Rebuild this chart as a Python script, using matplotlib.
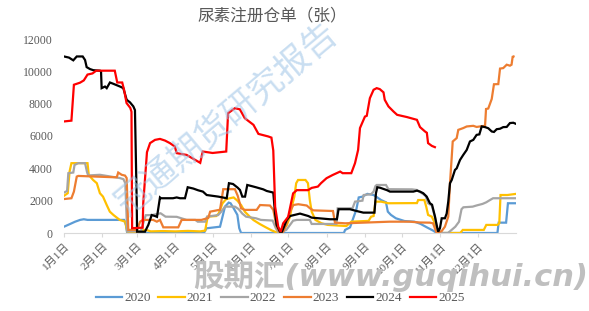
import matplotlib
matplotlib.use('Agg')
import matplotlib.pyplot as plt

plt.rcParams['font.family'] = ['Liberation Serif', 'Noto Sans CJK SC']

# 横轴: 一年中的第几天 (0 = 1月1日)
month_days = [0, 31, 59, 90, 120, 151, 181, 212, 243, 273, 304, 334]
month_labels = [f'{m}月1日' for m in range(1, 13)]

# 2020
d2020 = [0, 5, 9, 13, 16, 19, 48.5, 50, 51, 113, 115, 126, 128, 130, 133, 134.5, 137, 140, 141.5, 143,
         226, 227, 231, 234, 236, 238, 241, 245, 250, 253, 256, 260, 261.5, 264, 268, 275, 283, 288, 293,
         298, 301, 350, 351, 357, 358.5, 365]
v2020 = [390, 560, 700, 810, 850, 810, 810, 500, 0, 0, 290, 390, 1010, 1630, 1880, 1840, 1530, 1120, 300, 0,
         0, 190, 350, 1010, 1430, 2200, 2250, 2420, 2350, 2200, 2040, 1900, 1320, 1120, 910, 740, 700, 560, 350,
         150, 0, 0, 640, 640, 1840, 1840]

# 2021
d2021 = [0, 3, 4.5, 6, 19, 20, 23.5, 26.5, 29, 31.5, 34.5, 37, 40, 45, 49.5, 51, 56, 63, 66, 70, 80, 90, 100,
         110, 114, 116, 123, 125, 128, 131, 137, 140, 143, 146, 150, 153, 158, 163, 168, 173, 176.5, 180,
         182.5, 184, 186, 187.5, 189, 195, 197, 198.5, 200, 203, 208, 213, 228, 232, 246, 248, 250, 251.5,
         256, 262, 285, 286, 291, 292.5, 294, 297, 299.5, 302, 320, 322, 339, 341, 350, 351.5, 352.5, 358, 365]
v2021 = [2300, 2460, 3800, 4320, 4320, 3590, 3280, 3080, 2460, 2250, 1730, 1320, 1110, 810, 700, 100, 0, 150,
         200, 100, 120, 100, 130, 100, 150, 1010, 1050, 1220, 1840, 2100, 2200, 2000, 1730, 1320, 1010, 800,
         560, 350, 150, 0, 100, 500, 1010, 1630, 2250, 3080, 3280, 3280, 3080, 2040, 1320, 810, 600, 500, 430,
         700, 750, 1010, 1050, 1940, 1940, 1840, 1850, 2040, 2040, 1630, 1120, 1010, 600, 0, 0, 190, 190, 500,
         500, 600, 2350, 2350, 2420]

# 2022
d2022 = [0, 2.5, 3.5, 7.5, 8.5, 11.5, 17, 18.5, 19.5, 29, 45, 48, 49.5, 51, 62, 66, 71, 78, 82, 91, 99, 106,
         108, 114, 115.5, 124.5, 127, 130, 138, 141, 144, 147, 155, 159, 168.5, 171, 173.5, 179.5, 182.5, 185,
         188, 198.5, 200, 220, 221, 233, 235, 241, 242, 248, 250, 251.5, 252.5, 260, 262, 281, 285, 289, 292,
         294, 297, 299.5, 302, 310, 313, 316, 319, 321, 322.5, 330, 333, 338, 341, 344, 346.5, 365]
v2022 = [2500, 2600, 3700, 3740, 4210, 4320, 4320, 3800, 3560, 3600, 3400, 3330, 3080, 100, 100, 1100, 1110,
         1220, 1010, 1000, 810, 810, 700, 700, 1010, 1110, 1320, 1630, 1630, 1480, 1200, 1010, 910, 810, 770,
         300, 0, 190, 500, 760, 810, 810, 560, 560, 1530, 1530, 1940, 2000, 2350, 2400, 2560, 2900, 2970, 2970,
         2710, 2700, 2660, 2460, 2300, 1840, 1700, 1000, 0, 0, 190, 390, 700, 1470, 1590, 1630, 1700, 1800,
         1900, 2040, 2150, 2150]

# 2023
d2023 = [0, 6, 8, 10.3, 11.5, 39.8, 42.6, 43.8, 46.6, 49.3, 50.6, 51.9, 59, 61.4, 63.8, 72, 75, 77.5, 80.2,
         92.3, 95, 111, 116.5, 118, 126, 128.6, 138, 140.3, 143, 146, 155.6, 158.3, 166.3, 169, 171.7, 174.4,
         177, 179.8, 182.5, 185.2, 189.2, 196, 198.6, 201.3, 217.2, 218.8, 227, 263, 279, 287.5, 295.5, 298,
         300.9, 305, 307.6, 310.3, 311.7, 313.1, 313.9, 317.1, 318.4, 322.4, 325.2, 330.5, 333.2, 338.5, 340,
         340.8, 342.6, 345.4, 347.2, 350.7, 352.1, 354.7, 357.5, 360.1, 361.4, 362.3, 363]
v2023 = [2100, 2150, 2560, 3490, 3530, 3450, 3450, 3740, 3600, 3550, 3400, 190, 190, 700, 810, 810, 700, 810,
         350, 350, 810, 810, 930, 1320, 1440, 2710, 2710, 2300, 1530, 1430, 1430, 1730, 1700, 1430, 390, 0, 80,
         600, 1320, 1730, 1780, 1700, 1530, 1400, 1360, 640, 600, 700, 700, 650, 640, 600, 0, 120, 390, 1010,
         3080, 4700, 5660, 5870, 6380, 6490, 6590, 6630, 6560, 6620, 6620, 7670, 7700, 8290, 9200, 9210,
         10170, 10200, 10410, 10350, 10410, 10900, 10920]

# 2024
d2024 = [0, 4, 7.5, 10.3, 15.1, 17, 18.3, 21, 23.7, 29.1, 29.9, 30.4, 33.1, 34.5, 37.1, 39.8, 45.2, 47.9,
         50.6, 53.3, 56, 57.3, 58.7, 59, 65.4, 68.1, 70.8, 73.5, 75.1, 77.5, 78.3, 88, 91, 93.7, 97.7, 99.9,
         104.4, 108.4, 112.2, 115.2, 124.6, 131.4, 133.2, 136.5, 140.3, 142.1, 144, 146.2, 148, 151.6, 155,
         160.9, 163.7, 169, 170.4, 171.7, 174.4, 176, 179.8, 182.5, 187.9, 190.6, 197.3, 200, 214.8, 220.4,
         221.7, 230.9, 236.3, 241.7, 250.7, 251.9, 253, 255.2, 260.8, 263.2, 282.1, 285, 287.5, 290.1, 292.9,
         295.5, 297.2, 299.6, 300.9, 302.2, 303.6, 305, 307.6, 309, 310.3, 311.7, 313.1, 315.7, 317.1, 319.8,
         322.4, 325.2, 327.8, 330.5, 333.2, 335.4, 337.3, 340, 342.6, 345.4, 347.2, 349.4, 352.1, 354.7,
         357.5, 360.1, 362.8, 365]
v2024 = [10920, 10850, 10680, 10920, 10920, 10700, 10260, 10140, 10070, 10040, 10000, 8960, 9060, 8960,
         9310, 9230, 9060, 8960, 8240, 8080, 7830, 7600, 2000, 80, 80, 500, 1110, 1050, 1000, 2200, 2150,
         2150, 2200, 2150, 2150, 2830, 2750, 2640, 2560, 2350, 2250, 2150, 3080, 3030, 2800, 2660, 2250, 2250,
         2970, 2900, 2830, 2700, 2600, 2500, 1240, 500, 80, 80, 800, 1050, 1150, 1200, 1050, 950, 850, 850,
         1470, 1470, 1360, 1260, 1260, 2460, 2830, 2800, 2650, 2560, 2560, 2620, 2560, 2460, 2250, 1840, 1750,
         1010, 500, 80, 300, 910, 910, 1200, 1940, 3080, 3280, 3900, 4000, 4520, 4830, 5140, 5660, 5760, 6070,
         6100, 6590, 6550, 6480, 6280, 6250, 6420, 6450, 6550, 6560, 6800, 6820, 6750]

# 2025
d2025 = [0, 6, 8, 13, 16, 19, 23, 26, 41, 43, 47, 48.5, 50.5, 53.5, 54.5, 55, 63.5, 64, 67, 69.5, 73.5, 77.5,
         81.5, 85.5, 89.5, 91, 99, 110, 112, 120, 131, 132.5, 138, 142, 146, 153, 157, 165, 167.5, 169, 170.5,
         173, 175, 177, 181, 185, 188, 197, 200, 205, 207.5, 212, 217, 223, 225, 232, 235, 237.5, 239, 243,
         244.5, 247, 250, 252.5, 255, 258, 259, 262, 266, 269, 277, 285, 287.5, 291.5, 293, 294, 297, 299.5]
v2025 = [6900, 6950, 9170, 9300, 9440, 9800, 9870, 10040, 10040, 9310, 9310, 8860, 8040, 7740, 7500, 300, 330,
         1860, 5000, 5560, 5760, 5820, 5720, 5560, 5350, 4940, 4830, 4340, 5040, 4950, 5040, 7410, 7720, 7650,
         7100, 6690, 6130, 5970, 5900, 5100, 1630, 390, 80, 600, 1000, 2450, 2650, 2650, 2790, 2870, 3080,
         3390, 3590, 3800, 3700, 3700, 4320, 5140, 6490, 7200, 7250, 8340, 8860, 8960, 8900, 8700, 8240, 7830,
         7520, 7310, 7170, 7000, 6550, 6280, 6200, 5560, 5390, 5310]

series = [
    ('2020', d2020, v2020, '#5B9BD5'),
    ('2021', d2021, v2021, '#FFC000'),
    ('2022', d2022, v2022, '#A5A5A5'),
    ('2023', d2023, v2023, '#ED7D31'),
    ('2024', d2024, v2024, '#000000'),
    ('2025', d2025, v2025, '#FF0000'),
]

text_color = '#595959'

fig = plt.figure(figsize=(5.89, 3.11), dpi=100)
ax = fig.add_axes([64 / 589, 1 - 233 / 311, (516 - 64) / 589, (233 - 39) / 311])

for name, d, v, c in series:
    ax.plot(d, v, color=c, linewidth=1.6, label=name, solid_joinstyle='miter')

ax.set_xlim(0, 365)
ax.set_ylim(0, 12000)
ax.set_yticks(range(0, 12001, 2000))
ax.set_xticks(month_days)
ax.set_xticklabels(month_labels, rotation=45, ha='right', rotation_mode='anchor')

for s in ['top', 'right', 'left']:
    ax.spines[s].set_visible(False)
ax.spines['bottom'].set_color('#D9D9D9')
ax.tick_params(axis='y', length=0, pad=8, labelsize=8.5, labelcolor=text_color)
ax.tick_params(axis='x', length=3, color='#D9D9D9', pad=3, labelsize=8, labelcolor=text_color)

fig.text(272 / 589, 1 - 16 / 311, '尿素注册仓单（张）', ha='center', va='center',
         fontsize=12, color=text_color, family='Noto Sans CJK SC')

fig.legend(loc='center', bbox_to_anchor=(280 / 589, 1 - 298 / 311), ncol=6, frameon=False,
           fontsize=9.5, handlelength=2.0, columnspacing=0.6, handletextpad=0.15, labelcolor=text_color)

# 水印
fig.text(228 / 589, 1 - 120 / 311, '冠通期货研究报告', rotation=40, ha='center', va='center',
         fontsize=25, color='#9DC3E6', alpha=0.55, family='Noto Sans CJK SC')
fig.text(193 / 589, 1 - 276 / 311, '股期汇(www.guqihui.cn)', ha='left', va='center',
         fontsize=22, fontweight='bold', style='italic', color='#BFBFBF',
         family=['DejaVu Sans', 'Noto Sans CJK SC'])

fig.savefig('out.png', dpi=100)
